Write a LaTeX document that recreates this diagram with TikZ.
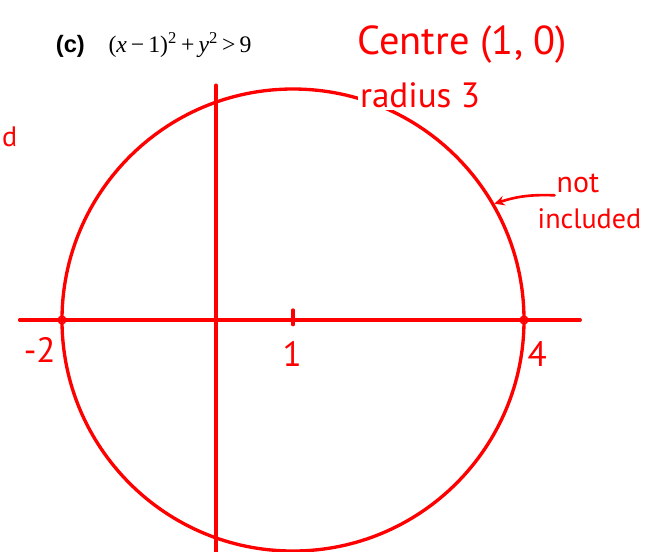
\documentclass[tikz,border=0pt]{standalone}
\usepackage{fontspec}
\newfontfamily\handfont{PT Sans}
\newfontfamily\labfont{Liberation Sans}
\newfontfamily\mathsfont{Liberation Serif}
\begin{document}
\begin{tikzpicture}[line join = round, line cap = round,>=stealth,x=1.54cm,y=1.54cm,
	pen/.style={red,line width=1.9pt},
	hand/.style={red,font=\handfont\fontsize{#1}{#1}\selectfont,inner sep=1pt}]
	\useasboundingbox (-2.805,-3.0) rectangle (5.688,4.156);
	%Axes
	\coordinate (xl) at (-2.55,0);
	\coordinate (xr) at (4.73,0);
	\coordinate (yt) at (0,3.05);
	\coordinate (yb) at (0,-3.05);
	\draw[pen] (xl)--(xr);
	\draw[pen] (yt)--(yb);
	\draw[pen] (1,0.13)--(1,-0.06);
	%Circle centre (1,0), radius 3
	\node[draw,pen,circle,minimum size=9.24cm,inner sep=0pt] (ring) at (1,0) {};
	\foreach \x in {-2,4} \draw[red,line width=0.8pt] (\x,0) circle (0.05);
	%Labels on the axis
	\node[hand=20] (mtwo) at (-2.29,-0.39) {-2};
	\node[hand=20] (one) at (0.99,-0.44) {1};
	\node[hand=20] (four) at (4.17,-0.44) {4};
	%Title
	\node[anchor=west,font=\fontsize{13.5}{16}\selectfont] (title) at (-2.16,3.57)
		{{\labfont\bfseries (c)}\quad{\mathsfont (\textit{x}\,−\,1)\textsuperscript{2}\,+\,\textit{y}\textsuperscript{2}\,>\,9}};
	%Notes
	\node[hand=23] (centre) at (3.2,3.58) {Centre (1, 0)};
	\node[hand=20,fill=white] (radlbl) at (2.65,2.92) {radius 3};
	\node[hand=17] (notlbl) at (4.7,1.77) {not};
	\node[hand=16] (inclbl) at (4.85,1.32) {included};
	\node[hand=16,anchor=west] (dlbl) at (-2.805,2.38) {d};
	\draw[pen,line width=1.5pt,->] (notlbl.south west) to[bend right=10] (ring.30);
\end{tikzpicture}
\end{document}
